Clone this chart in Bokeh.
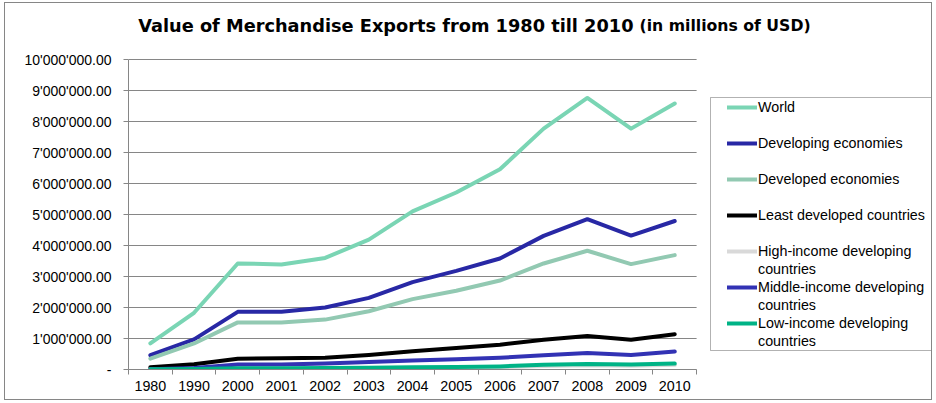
from bokeh.plotting import figure
from bokeh.models import Range1d, FixedTicker, Legend, LegendItem, Label, BoxAnnotation
from bokeh.embed import file_html
from bokeh.resources import INLINE

years = ["1980", "1990", "2000", "2001", "2002", "2003", "2004",
         "2005", "2006", "2007", "2008", "2009", "2010"]

world = [840000, 1830000, 3420000, 3390000, 3600000, 4190000, 5100000,
         5710000, 6460000, 7770000, 8760000, 7770000, 8580000]
developing = [460000, 970000, 1860000, 1860000, 2000000, 2310000, 2820000,
              3180000, 3580000, 4310000, 4850000, 4320000, 4790000]
developed = [350000, 840000, 1520000, 1520000, 1610000, 1880000, 2270000,
             2540000, 2870000, 3420000, 3830000, 3400000, 3690000]
least_developed = [70000, 170000, 350000, 360000, 380000, 470000, 585000,
                   690000, 800000, 960000, 1080000, 960000, 1140000]
high_income = [5000, 10000, 20000, 20000, 30000, 40000, 50000,
               60000, 70000, 110000, 140000, 120000, 150000]
middle_income = [10000, 50000, 160000, 160000, 190000, 240000, 290000,
                 330000, 380000, 460000, 530000, 470000, 580000]
low_income = [10000, 20000, 40000, 40000, 50000, 60000, 70000,
              80000, 100000, 150000, 180000, 160000, 190000]

# legend text, wrapped as in the original (first line, second line)
series_names = [("World", ""), ("Developing economies", ""),
                ("Developed economies", ""), ("Least developed countries", ""),
                ("High-income developing", "countries"),
                ("Middle-income developing", "countries"),
                ("Low-income developing", "countries")]
series_values = [world, developing, developed, least_developed,
                 high_income, middle_income, low_income]
series_colors = ["#7ad5b4", "#2828a5", "#92c9b2", "#000000",
                 "#d9d9d9", "#3232b4", "#00b386"]

ytick_values = [0, 1000000, 2000000, 3000000, 4000000, 5000000,
                6000000, 7000000, 8000000, 9000000, 10000000]
ytick_labels = ["-", "1'000'000.00", "2'000'000.00", "3'000'000.00",
                "4'000'000.00", "5'000'000.00", "6'000'000.00",
                "7'000'000.00", "8'000'000.00", "9'000'000.00",
                "10'000'000.00"]

title_main = "Value of Merchandise Exports from 1980 till 2010"
title_sub = "(in millions of USD)"

FONT = "Liberation Sans"
GRID = "#868686"

W, H = 928, 398
LEFT, BOTTOM = 123, 32
frame_w = W - LEFT
frame_h = H - BOTTOM
cat_px = 43.7          # pixel width of one year slot
y_px = 310.0           # pixel height of 0..10M
n = len(years)
y_max = ytick_values[-1]

xs = [i + 0.5 for i in range(n)]

p = figure(width=W, height=H, output_backend="svg", toolbar_location=None,
           x_range=Range1d(0, frame_w / cat_px),
           y_range=Range1d(0, y_max * frame_h / y_px),
           min_border_left=LEFT, min_border_right=0, min_border_top=0,
           min_border_bottom=BOTTOM)
p.styles = {"border": "1px solid #868686", "margin-left": "4px", "margin-top": "2px"}
p.outline_line_color = None
p.background_fill_color = "white"
p.border_fill_color = "white"
p.xgrid.visible = False
p.ygrid.visible = False

# horizontal gridlines limited to the plot area
p.segment(x0=[0] * len(ytick_values), x1=[n] * len(ytick_values),
          y0=ytick_values, y1=ytick_values, line_color=GRID, line_width=1)

# axes
p.xaxis.bounds = (0, n)
p.xaxis.ticker = FixedTicker(ticks=xs, minor_ticks=list(range(n + 1)))
p.xaxis.major_label_overrides = {x: y for x, y in zip(xs, years)}
p.xaxis.major_tick_line_color = None
p.xaxis.minor_tick_in = 0
p.xaxis.minor_tick_out = 5
p.xaxis.minor_tick_line_color = GRID
p.xaxis.axis_line_color = GRID
p.xaxis.major_label_text_font = FONT
p.xaxis.major_label_text_font_size = "14.3px"
p.xaxis.major_label_text_color = "#000000"
p.xaxis.major_label_standoff = 5

p.yaxis.bounds = (0, y_max)
p.yaxis.ticker = FixedTicker(ticks=ytick_values, minor_ticks=[])
p.yaxis.major_label_overrides = {v: l for v, l in zip(ytick_values, ytick_labels)}
p.yaxis.major_tick_in = 0
p.yaxis.major_tick_out = 5
p.yaxis.major_tick_line_color = GRID
p.yaxis.axis_line_color = GRID
p.yaxis.major_label_text_font = FONT
p.yaxis.major_label_text_font_size = "14px"
p.yaxis.major_label_text_color = "#000000"
p.yaxis.major_label_standoff = 12

# transparent renderer used for the legend's continuation / spacer rows
spacer = p.line(x=[], y=[], line_alpha=0)

items = []
for (first, second), vals, col in zip(series_names, series_values, series_colors):
    r = p.line(xs, vals, line_color=col, line_width=4, line_join="round", line_cap="round")
    items.append(LegendItem(label=first, renderers=[r]))
    items.append(LegendItem(label=second if second else " ", renderers=[spacer]))

# legend frame (Excel-style box)
p.add_layout(BoxAnnotation(left=582, right=803, bottom=19, top=272,
                           left_units="screen", right_units="screen",
                           bottom_units="screen", top_units="screen",
                           fill_color="white", fill_alpha=1,
                           line_color="#000000", line_width=1, level="overlay"))

legend = Legend(items=items, location=(599, 19), orientation="vertical",
                label_text_font=FONT, label_text_font_size="14.3px",
                label_text_color="#000000", label_height=18, glyph_width=30,
                glyph_height=18, label_standoff=1, spacing=0, padding=0,
                margin=0, border_line_color=None,
                background_fill_alpha=0)
p.add_layout(legend, "center")

t1 = Label(x=505, y=344, x_units="screen", y_units="screen", text=title_main,
           text_font="DejaVu Sans", text_font_style="bold", text_font_size="17.75px",
           text_align="right", text_baseline="alphabetic", text_color="#000000")
t2 = Label(x=511, y=344, x_units="screen", y_units="screen", text=title_sub,
           text_font="DejaVu Sans", text_font_style="bold", text_font_size="15.7px",
           text_align="left", text_baseline="alphabetic", text_color="#000000")
p.add_layout(t1)
p.add_layout(t2)

open("out.html", "w").write(file_html(p, INLINE))
